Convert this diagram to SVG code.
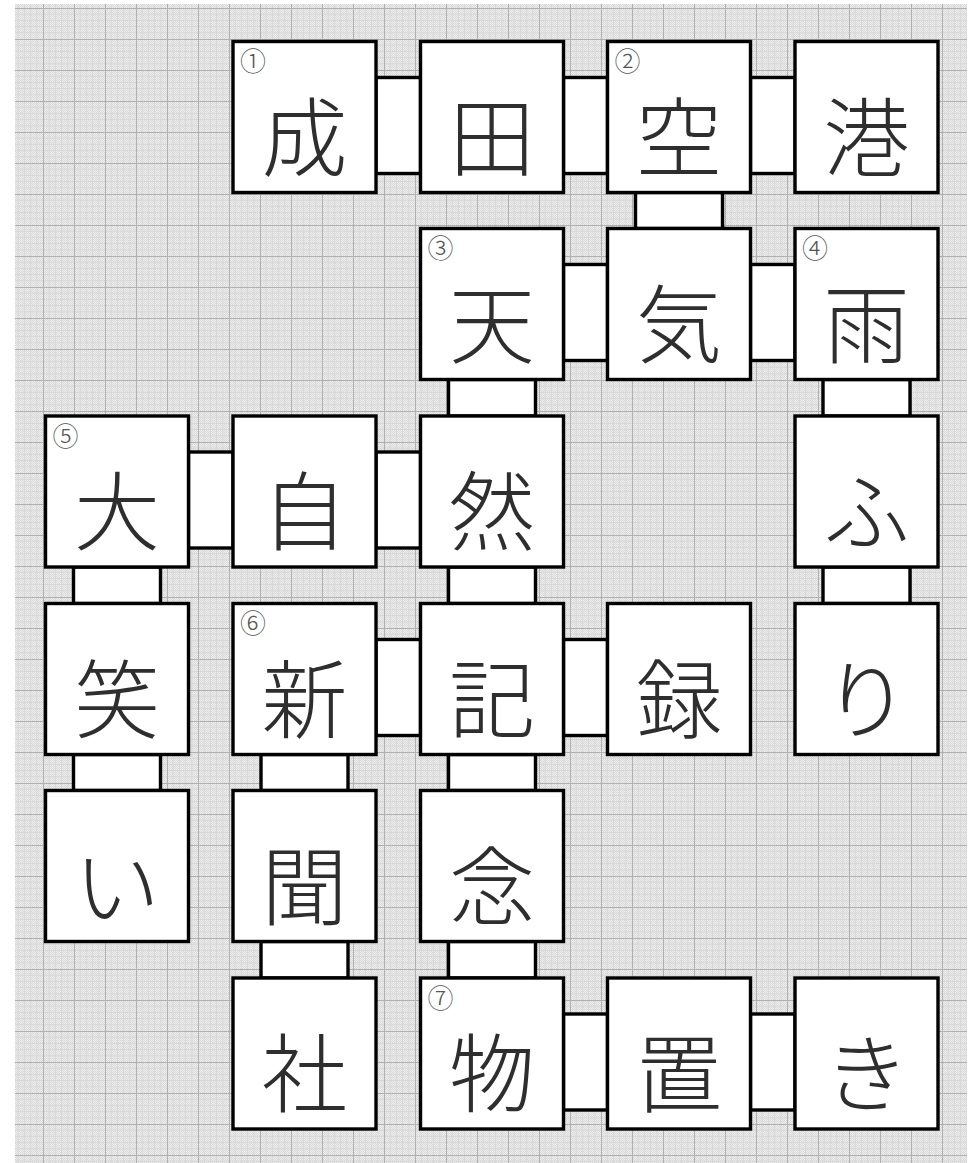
<svg xmlns="http://www.w3.org/2000/svg" width="979" height="1163" viewBox="0 0 979 1163">
<style>
.box{fill:#fff;stroke:#000;stroke-width:3.4}
.con{fill:#fff;stroke:#000;stroke-width:3.4}
.ch{font-family:"Noto Sans CJK JP","Noto Sans CJK SC",sans-serif;font-size:86px;font-weight:300;fill:#2e2e2e;text-anchor:middle}
.num{font-family:"Noto Sans CJK JP","Noto Sans CJK SC",sans-serif;font-size:26px;font-weight:300;fill:#555;text-anchor:middle}
</style>
<defs>
<pattern id="fine" patternUnits="userSpaceOnUse" width="2" height="2">
<rect width="2" height="2" fill="#eeeeee"/>
<rect width="1" height="1" fill="#d9d9d9"/>
<rect x="1" y="1" width="1" height="1" fill="#d9d9d9"/>
</pattern>
<pattern id="grid" patternUnits="userSpaceOnUse" x="12" y="8" width="31" height="31">
<path d="M6.2 0V31M12.4 0V31M18.6 0V31M24.8 0V31M0 6.2H31M0 12.4H31M0 18.6H31M0 24.8H31" stroke="#d8d8d8" stroke-width="1" fill="none"/>
<path d="M0.5 0V31M0 0.5H31" stroke="#b0b0b0" stroke-width="1" fill="none"/>
</pattern>
</defs>
<rect x="0" y="0" width="979" height="1163" fill="#fff"/>
<rect x="15" y="4" width="952" height="1159" fill="url(#fine)"/>
<rect x="15" y="4" width="952" height="1159" fill="url(#grid)"/>
<g id="connectors">
<rect class="con" x="376" y="77.5" width="44.5" height="96"/>
<rect class="con" x="563.5" y="77.5" width="44" height="96"/>
<rect class="con" x="750.5" y="77.5" width="44.5" height="96"/>
<rect class="con" x="563.5" y="264.5" width="44" height="96"/>
<rect class="con" x="750.5" y="264.5" width="44.5" height="96"/>
<rect class="con" x="188.5" y="452" width="44.5" height="96"/>
<rect class="con" x="376" y="452" width="44.5" height="96"/>
<rect class="con" x="376" y="639.5" width="44.5" height="96"/>
<rect class="con" x="563.5" y="639.5" width="44" height="96"/>
<rect class="con" x="563.5" y="1014" width="44" height="96"/>
<rect class="con" x="750.5" y="1014" width="44.5" height="96"/>
<rect class="con" x="635.5" y="192.5" width="87" height="36"/>
<rect class="con" x="448.5" y="379.5" width="87" height="36.5"/>
<rect class="con" x="823" y="379.5" width="87" height="36.5"/>
<rect class="con" x="73.5" y="567" width="87" height="36.5"/>
<rect class="con" x="448.5" y="567" width="87" height="36.5"/>
<rect class="con" x="823" y="567" width="87" height="36.5"/>
<rect class="con" x="73.5" y="754.5" width="87" height="36"/>
<rect class="con" x="261" y="754.5" width="87" height="36"/>
<rect class="con" x="448.5" y="754.5" width="87" height="36"/>
<rect class="con" x="261" y="941.5" width="87" height="36.5"/>
<rect class="con" x="448.5" y="941.5" width="87" height="36.5"/>
</g>
<g id="n-nari"><rect class="box" x="233" y="41.5" width="143" height="151"/><text class="num" x="253" y="71">①</text><text class="ch" x="304.5" y="169.5">成</text></g>
<g id="n-ta"><rect class="box" x="420.5" y="41.5" width="143" height="151"/><text class="ch" x="492" y="169.5">田</text></g>
<g id="n-kuu"><rect class="box" x="607.5" y="41.5" width="143" height="151"/><text class="num" x="627.5" y="71">②</text><text class="ch" x="679" y="169.5">空</text></g>
<g id="n-kou"><rect class="box" x="795" y="41.5" width="143" height="151"/><text class="ch" x="866.5" y="169.5">港</text></g>
<g id="n-ten"><rect class="box" x="420.5" y="228.5" width="143" height="151"/><text class="num" x="440.5" y="258">③</text><text class="ch" x="492" y="356.5">天</text></g>
<g id="n-ki"><rect class="box" x="607.5" y="228.5" width="143" height="151"/><text class="ch" x="679" y="356.5">気</text></g>
<g id="n-ame"><rect class="box" x="795" y="228.5" width="143" height="151"/><text class="num" x="815" y="258">④</text><text class="ch" x="866.5" y="356.5">雨</text></g>
<g id="n-dai"><rect class="box" x="45.5" y="416" width="143" height="151"/><text class="num" x="65.5" y="445.5">⑤</text><text class="ch" x="117" y="544">大</text></g>
<g id="n-ji"><rect class="box" x="233" y="416" width="143" height="151"/><text class="ch" x="304.5" y="544">自</text></g>
<g id="n-zen"><rect class="box" x="420.5" y="416" width="143" height="151"/><text class="ch" x="492" y="544">然</text></g>
<g id="n-fu"><rect class="box" x="795" y="416" width="143" height="151"/><text class="ch" x="866.5" y="544">ふ</text></g>
<g id="n-warai"><rect class="box" x="45.5" y="603.5" width="143" height="151"/><text class="ch" x="117" y="731.5">笑</text></g>
<g id="n-shin"><rect class="box" x="233" y="603.5" width="143" height="151"/><text class="num" x="253" y="633">⑥</text><text class="ch" x="304.5" y="731.5">新</text></g>
<g id="n-ki2"><rect class="box" x="420.5" y="603.5" width="143" height="151"/><text class="ch" x="492" y="731.5">記</text></g>
<g id="n-roku"><rect class="box" x="607.5" y="603.5" width="143" height="151"/><text class="ch" x="679" y="731.5">録</text></g>
<g id="n-ri"><rect class="box" x="795" y="603.5" width="143" height="151"/><text class="ch" x="866.5" y="731.5">り</text></g>
<g id="n-i"><rect class="box" x="45.5" y="790.5" width="143" height="151"/><text class="ch" x="117" y="918.5">い</text></g>
<g id="n-bun"><rect class="box" x="233" y="790.5" width="143" height="151"/><text class="ch" x="304.5" y="918.5">聞</text></g>
<g id="n-nen"><rect class="box" x="420.5" y="790.5" width="143" height="151"/><text class="ch" x="492" y="918.5">念</text></g>
<g id="n-sha"><rect class="box" x="233" y="978" width="143" height="151"/><text class="ch" x="304.5" y="1106">社</text></g>
<g id="n-mono"><rect class="box" x="420.5" y="978" width="143" height="151"/><text class="num" x="440.5" y="1007.5">⑦</text><text class="ch" x="492" y="1106">物</text></g>
<g id="n-oki"><rect class="box" x="607.5" y="978" width="143" height="151"/><text class="ch" x="679" y="1106">置</text></g>
<g id="n-ki3"><rect class="box" x="795" y="978" width="143" height="151"/><text class="ch" x="866.5" y="1106">き</text></g>
</svg>
